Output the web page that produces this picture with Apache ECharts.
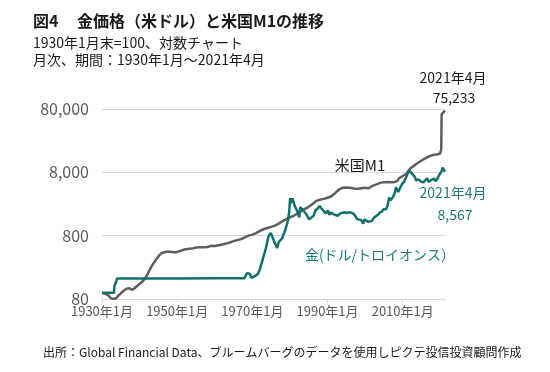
<!DOCTYPE html>
<html>
<head>
<meta charset="utf-8">
<script src="https://cdn.jsdelivr.net/npm/echarts@6/dist/echarts.min.js"></script>
<style>
html,body{margin:0;padding:0;background:#fff;}
#chart{width:550px;height:372px;}
</style>
</head>
<body>
<div id="chart"></div>
<script>
// ---- data (index, 1930年1月末 = 100) ----
const xTickYears = [1930, 1950, 1970, 1990, 2010];
const yTickValues = [80, 800, 8000, 80000];

const m1Years = [1930.0,1930.5,1931.0,1931.6,1932.2,1932.8,1933.3,1933.8,1934.3,1935.0,1935.6,1936.5,1937.3,1937.9,1938.5,1939.2,1939.8,1940.6,1941.3,1942.0,1942.6,1943.3,1943.9,1944.6,1945.2,1945.8,1946.5,1947.3,1948.0,1948.8,1949.5,1950.0,1951.0,1952.0,1953.0,1954.0,1955.0,1956.0,1957.0,1958.0,1959.0,1960.0,1961.0,1962.0,1963.0,1964.0,1965.0,1966.0,1967.0,1968.0,1969.0,1970.0,1971.0,1972.0,1973.0,1974.0,1975.0,1976.0,1977.0,1978.0,1979.0,1980.0,1981.0,1982.0,1983.0,1984.0,1985.0,1986.0,1987.0,1988.0,1989.0,1990.0,1991.0,1992.0,1993.0,1994.0,1995.0,1996.0,1997.0,1998.0,1999.0,2000.0,2001.0,2002.0,2003.0,2004.0,2005.0,2006.0,2007.0,2008.0,2008.7,2009.0,2010.0,2011.0,2012.0,2013.0,2014.0,2015.0,2016.0,2017.0,2018.0,2019.0,2019.9,2020.1,2020.25,2020.35,2020.5,2020.8,2021.0,2021.25];
const m1Values = [100,98,96,92,84,80,78,82,90,98,106,116,118,112,116,126,136,148,165,190,225,270,305,350,390,420,438,445,447,440,435,442,462,485,495,500,520,527,525,530,552,550,565,580,600,625,655,680,705,755,800,830,880,950,1010,1060,1100,1150,1240,1350,1460,1560,1650,1780,1950,2120,2280,2520,2830,2950,3050,3180,3350,3750,4250,4550,4620,4550,4450,4400,4480,4560,4480,4900,5150,5450,5600,5620,5600,5650,5950,6450,7000,7600,9200,10200,11200,12300,13300,14300,15000,15300,15700,16200,18500,66000,68000,70500,72500,75233];

const goldYears = [1930.0,1933.2,1933.3,1933.7,1934.0,1940.0,1950.0,1960.0,1967.9,1968.3,1968.6,1969.0,1969.3,1969.8,1970.2,1970.8,1971.5,1972.0,1972.5,1973.0,1973.5,1973.9,1974.3,1974.9,1975.3,1975.8,1976.6,1977.0,1977.9,1978.8,1979.5,1979.8,1980.05,1980.2,1980.3,1980.7,1980.9,1981.3,1981.9,1982.5,1982.7,1983.1,1983.6,1984.0,1984.6,1985.1,1985.6,1986.3,1986.8,1987.4,1987.9,1988.4,1988.9,1989.5,1990.1,1990.5,1990.9,1991.5,1992.0,1992.7,1993.4,1993.8,1994.5,1995.2,1995.9,1996.1,1996.8,1997.5,1997.9,1998.4,1998.9,1999.5,1999.8,2000.3,2000.8,2001.2,2001.8,2002.4,2002.9,2003.4,2003.9,2004.5,2004.9,2005.5,2005.9,2006.4,2006.8,2007.4,2007.9,2008.2,2008.8,2009.2,2009.9,2010.5,2010.9,2011.3,2011.7,2011.9,2012.4,2012.8,2013.3,2013.5,2013.9,2014.3,2014.9,2015.5,2015.9,2016.5,2016.9,2017.5,2017.9,2018.3,2018.7,2019.2,2019.7,2020.0,2020.3,2020.6,2020.9,2021.2,2021.25];
const goldValues = [100,100,128,145,169,169,169,170,170,190,205,210,200,172,170,185,200,235,300,320,480,470,780,880,820,650,510,630,730,1000,1400,1900,3150,2600,2450,3100,2800,2350,1980,1550,2250,2400,2000,1850,1650,1450,1550,1650,2000,2150,2350,2150,2000,1800,2000,1700,1850,1750,1700,1650,1800,1820,1870,1820,1880,1960,1800,1600,1450,1430,1420,1240,1450,1380,1320,1270,1370,1550,1530,1710,1850,1930,2100,2080,2300,3200,2900,3250,3800,4650,3900,4400,5300,5800,6700,7150,8600,8150,7700,8100,6700,6000,6100,6150,5700,5550,5200,6450,5650,6000,6150,6400,5800,6300,7300,7600,8200,9500,9050,8300,8567];

const FONT = '"Noto Sans CJK JP", "Noto Sans", sans-serif';
const GRAY = '#5e5e5e';
const TEAL = '#12706c';
const TEAL_TXT = '#1d7a76';

const chart = echarts.init(document.getElementById('chart'), null, {renderer: 'canvas'});
const zip = (xs, ys) => xs.map((x, i) => [x, ys[i]]);

chart.setOption({
  animation: false,
  backgroundColor: '#ffffff',
  textStyle: {fontFamily: FONT},
  grid: {left: 102, right: 105, top: 109, bottom: 73, containLabel: false},
  xAxis: {
    type: 'value',
    min: 1930,
    max: 2021.25,
    axisLine: {show: true, lineStyle: {color: '#d9d9d9', width: 1}},
    axisTick: {show: true, customValues: xTickYears, length: 4, lineStyle: {color: '#d9d9d9'}},
    axisLabel: {customValues: xTickYears, formatter: v => v + '年1月', color: '#595959', fontSize: 13, fontFamily: FONT, margin: 6},
    splitLine: {show: false}
  },
  yAxis: {
    type: 'log',
    logBase: 10,
    min: 80,
    max: 80000,
    axisLine: {show: false},
    axisTick: {show: false, customValues: yTickValues},
    axisLabel: {customValues: yTickValues, formatter: v => Math.round(v).toLocaleString('en-US'), color: '#595959', fontSize: 16, fontFamily: FONT, margin: 13},
    splitLine: {show: true, lineStyle: {color: '#d9d9d9', width: 1}}
  },
  series: [
    {name: '米国M1', type: 'line', data: zip(m1Years, m1Values), showSymbol: false, lineStyle: {color: GRAY, width: 2.5}, itemStyle: {color: GRAY}, z: 2},
    {name: '金(ドル/トロイオンス）', type: 'line', data: zip(goldYears, goldValues), showSymbol: false, lineStyle: {color: TEAL, width: 2.5}, itemStyle: {color: TEAL}, z: 3}
  ],
  graphic: [
    {type: 'text', left: 33, top: 13, style: {text: '図4', font: 'bold 16px ' + FONT, fill: '#1a1a1a'}},
    {type: 'text', left: 77, top: 13, style: {text: '金価格（米ドル）と米国M1の推移', font: 'bold 16px ' + FONT, fill: '#1a1a1a'}},
    {type: 'text', left: 33, top: 36, style: {text: '1930年1月末=100、対数チャート', font: '14px ' + FONT, fill: '#1a1a1a'}},
    {type: 'text', left: 33, top: 53, style: {text: '月次、期間：1930年1月～2021年4月', font: '14px ' + FONT, fill: '#1a1a1a'}},
    {type: 'text', x: 453, y: 78, style: {text: '2021年4月', font: '14px ' + FONT, fill: '#1a1a1a', align: 'center', verticalAlign: 'middle'}},
    {type: 'text', x: 454, y: 98, style: {text: '75,233', font: '14px ' + FONT, fill: '#1a1a1a', align: 'center', verticalAlign: 'middle'}},
    {type: 'text', x: 360, y: 165, style: {text: '米国M1', font: '15px ' + FONT, fill: '#1a1a1a', align: 'center', verticalAlign: 'middle'}},
    {type: 'text', x: 453, y: 193, style: {text: '2021年4月', font: '14px ' + FONT, fill: TEAL_TXT, align: 'center', verticalAlign: 'middle'}},
    {type: 'text', x: 455, y: 215, style: {text: '8,567', font: '14px ' + FONT, fill: TEAL_TXT, align: 'center', verticalAlign: 'middle'}},
    {type: 'text', x: 380, y: 255, style: {text: '金(ドル/トロイオンス）', font: '14px ' + FONT, fill: TEAL_TXT, align: 'center', verticalAlign: 'middle'}},
    {type: 'text', left: 43, top: 346, style: {text: '出所：Global Financial Data、ブルームバーグのデータを使用しピクテ投信投資顧問作成', font: '12px ' + FONT, fill: '#1a1a1a'}}
  ]
});
</script>
</body>
</html>
